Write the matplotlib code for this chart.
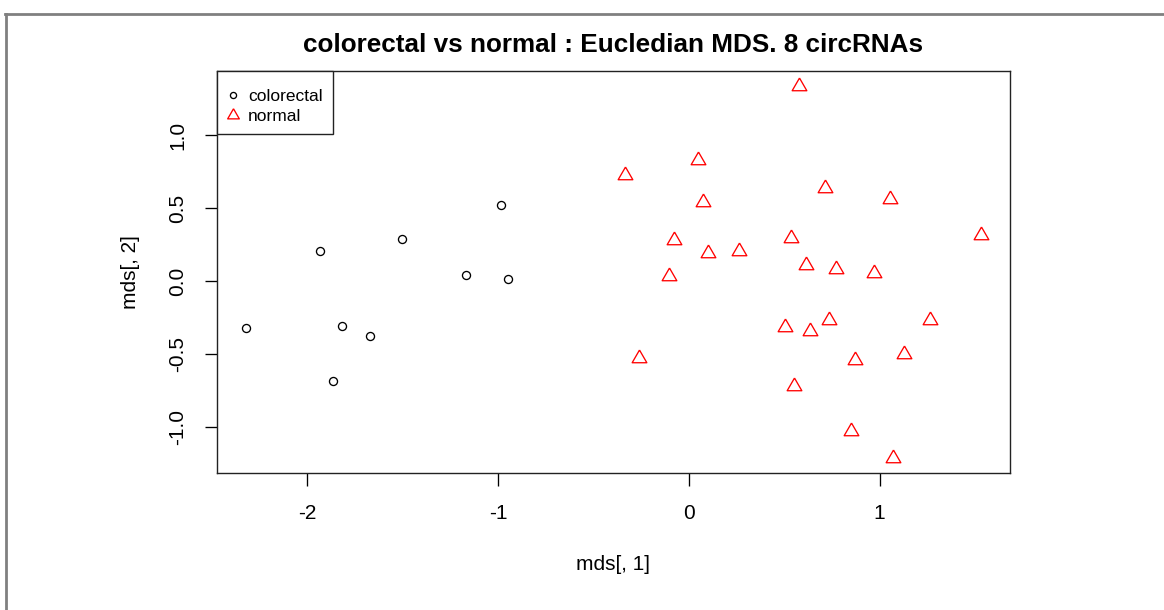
"""
MDS scatter of colorectal vs normal samples (Euclidean distance, 8 circRNAs).
R base-graphics look: open circles / open red triangles, boxed legend top-left.
"""
import numpy as np
import matplotlib
import matplotlib.pyplot as plt
from matplotlib.lines import Line2D
from matplotlib.patches import Rectangle

matplotlib.use('Agg')

OUTPUT_PNG = "out.png"

# MDS coordinates, colorectal samples
colorectal_x = [-2.318, -1.932, -1.818, -1.862, -1.669, -1.504, -1.168, -0.983, -0.946]
colorectal_y = [-0.321, 0.204, -0.305, -0.687, -0.378, 0.288, 0.043, 0.522, 0.016]

# MDS coordinates, normal samples
normal_x = [0.578, 0.049, -0.332, 0.714, 1.056, 0.077, 1.529, -0.080, 0.538,
            0.098, 0.265, 0.613, 0.770, 0.970, -0.103, 0.506, 0.637, 0.737,
            1.262, -0.260, 0.871, 1.127, 0.551, 0.850, 1.070]
normal_y = [1.339, 0.829, 0.726, 0.636, 0.565, 0.542, 0.313, 0.279, 0.297,
            0.190, 0.206, 0.112, 0.082, 0.055, 0.036, -0.316, -0.339, -0.270,
            -0.270, -0.527, -0.538, -0.499, -0.717, -1.026, -1.214]

x_ticks = [-2, -1, 0, 1]
y_ticks = [-1.0, -0.5, 0.0, 0.5, 1.0]

# R's pch=2: equilateral triangle centred on its centroid
TRIANGLE = [(0, 1), (0.866, -0.5), (-0.866, -0.5), (0, 1)]


def r_range(vals):
    # par(xaxs="r"): extend data range by 4% each side
    lo, hi = min(vals), max(vals)
    pad = (hi - lo) * 0.04
    return lo - pad, hi + pad


def make_plot():
    plt.rcParams['font.family'] = ['Liberation Sans', 'DejaVu Sans']

    fig = plt.figure(figsize=(11.64, 6.10), dpi=100)
    ax = fig.add_axes([217 / 1164, 1 - 473 / 610, 793 / 1164, 402 / 610])

    ax.plot(colorectal_x, colorectal_y, linestyle='none', marker='o', ms=5.8,
            mfc='none', mec='black', mew=0.95)
    ax.plot(normal_x, normal_y, linestyle='none', marker=TRIANGLE, ms=12.2,
            mfc='none', mec='#ff0000', mew=0.95)

    ax.set_xlim(*r_range(colorectal_x + normal_x))
    ax.set_ylim(*r_range(colorectal_y + normal_y))

    ax.set_xticks(x_ticks)
    ax.set_xticklabels([str(t) for t in x_ticks])
    ax.set_yticks(y_ticks)
    ax.set_yticklabels([f"{t:.1f}" for t in y_ticks])
    ax.tick_params(axis='both', length=9, width=0.95, labelsize=15, color='black')
    ax.tick_params(axis='x', pad=13.5)
    ax.tick_params(axis='y', pad=12.5, labelrotation=90)
    for lab in ax.get_yticklabels():
        lab.set_va('center')

    for sp in ax.spines.values():
        sp.set_linewidth(1.0)
        sp.set_color('#222222')

    ax.set_xlabel('mds[, 1]', fontsize=15)
    ax.xaxis.label.set_va('center')
    ax.xaxis.set_label_coords(0.5, -92 / 402)
    ax.set_ylabel('mds[, 2]', fontsize=15)
    ax.yaxis.label.set_va('center')
    ax.yaxis.set_label_coords(-87 / 793, 0.5)

    ax.set_title('colorectal vs normal : Eucledian MDS. 8 circRNAs',
                 fontsize=18.8, fontweight='bold', y=1 + 26 / 402, va='center', pad=0)

    # legend box drawn separately so the entries can sit a bit low, as R does
    ax.add_patch(Rectangle((0, 1 - 63 / 402), 116 / 793, 63 / 402,
                           transform=ax.transAxes, facecolor='white',
                           edgecolor='#222222', linewidth=1.0, zorder=4,
                           clip_on=False))
    handles = [
        Line2D([], [], linestyle='none', marker='o', ms=4.4, mfc='none',
               mec='black', mew=0.95, label='colorectal'),
        Line2D([], [], linestyle='none', marker=TRIANGLE, ms=9.7, mfc='none',
               mec='#ff0000', mew=0.95, label='normal'),
    ]
    leg = ax.legend(handles=handles, loc='upper left',
                    bbox_to_anchor=(0, 1 - 6 / 402), fontsize=12.5,
                    borderaxespad=0, borderpad=0.7, handlelength=0.46,
                    handletextpad=0.63, labelspacing=0.29, frameon=False)
    leg.set_zorder(5)

    # grey frame around the device region
    fig.add_artist(Line2D([6.3 / 1164, 6.3 / 1164], [0, 1 - 14 / 610],
                          transform=fig.transFigure, color='#808080', lw=2.0))
    fig.add_artist(Line2D([5 / 1164, 1], [1 - 14 / 610, 1 - 14 / 610],
                          transform=fig.transFigure, color='#808080', lw=2.0))

    fig.savefig(OUTPUT_PNG, dpi=100)
    plt.close(fig)


if __name__ == "__main__":
    make_plot()
